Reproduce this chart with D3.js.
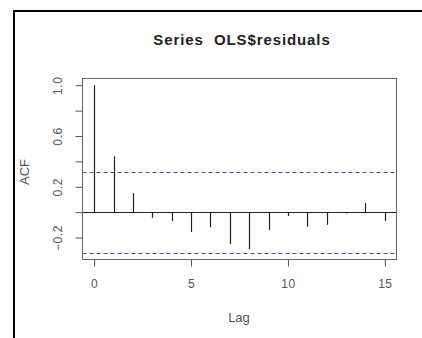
<!DOCTYPE html>
<html>
<head>
<meta charset="utf-8">
<script src="https://cdn.jsdelivr.net/npm/d3@7"></script>
<style>
  body { margin: 0; background: #fff; }
  text { font-family: "Liberation Sans", Arial, sans-serif; }
</style>
</head>
<body>
<svg id="chart" width="422" height="338"></svg>
<script>
// acf of the OLS residuals
var lags = [0, 1, 2, 3, 4, 5, 6, 7, 8, 9, 10, 11, 12, 13, 14, 15];
var acfValues = [1.0, 0.44, 0.15, -0.045, -0.07, -0.156, -0.118, -0.25, -0.29, -0.14, -0.03, -0.115, -0.10, -0.01, 0.072, -0.07];
var ciLevel = 0.32;
var xTicks = [0, 5, 10, 15];
var yTicks = [-0.2, 0, 0.2, 0.4, 0.6, 0.8, 1.0];
var yLabelled = [-0.2, 0.2, 0.6, 1.0];

var svg = d3.select("#chart");
var box = { left: 82.5, right: 396.5, top: 78.5, bottom: 259.5 };

// R style 4% padding on both scales
var ymin = Math.min(d3.min(acfValues), -ciLevel), ymax = d3.max(acfValues);
var yPad = (ymax - ymin) * 0.04;
var xPad = (d3.max(lags) - d3.min(lags)) * 0.04;

var x = d3.scaleLinear()
  .domain([d3.min(lags) - xPad, d3.max(lags) + xPad])
  .range([box.left, box.right]);
var y = d3.scaleLinear()
  .domain([ymin - yPad, ymax + yPad])
  .range([box.bottom, box.top]);

// outer frame (top + left only)
svg.append("path")
  .attr("d", "M14,338V11H422")
  .attr("fill", "none")
  .attr("stroke", "#000")
  .attr("stroke-width", 2);

svg.append("text")
  .attr("x", 242)
  .attr("y", 45)
  .attr("text-anchor", "middle")
  .style("font-size", "15px")
  .style("font-weight", "bold")
  .style("letter-spacing", "0.9px")
  .style("white-space", "pre")
  .attr("fill", "#222")
  .text("Series  OLS$residuals");

// zero line
svg.append("line")
  .attr("x1", box.left).attr("x2", box.right)
  .attr("y1", Math.round(y(0)) + 0.5).attr("y2", Math.round(y(0)) + 0.5)
  .attr("stroke", "#222");

// confidence bands
[ciLevel, -ciLevel].forEach(function (c) {
  svg.append("line")
    .attr("x1", box.left).attr("x2", box.right)
    .attr("y1", Math.round(y(c)) + 0.5).attr("y2", Math.round(y(c)) + 0.5)
    .attr("stroke", "#4646d8")
    .attr("stroke-dasharray", "4,3");
});

// spikes
svg.selectAll(".spike")
  .data(lags)
  .enter().append("line")
  .attr("class", "spike")
  .attr("x1", function (d) { return Math.round(x(d)) + 0.5; })
  .attr("x2", function (d) { return Math.round(x(d)) + 0.5; })
  .attr("y1", y(0))
  .attr("y2", function (d, i) { return y(acfValues[i]); })
  .attr("stroke", "#222")
  .attr("stroke-width", 1.2);

// plot box
svg.append("rect")
  .attr("x", box.left).attr("y", box.top)
  .attr("width", box.right - box.left).attr("height", box.bottom - box.top)
  .attr("fill", "none")
  .attr("stroke", "#666");

// x axis
var xAxis = svg.append("g")
  .attr("transform", "translate(0," + box.bottom + ")")
  .call(d3.axisBottom(x).tickValues(xTicks).tickSize(7).tickPadding(13).tickFormat(d3.format("d")));
xAxis.select(".domain").attr("stroke", "#666").attr("d", "M" + (Math.round(x(0)) + 0.5) + ",0H" + (Math.round(x(15)) + 0.5));
xAxis.selectAll(".tick line").attr("stroke", "#555");
xAxis.selectAll(".tick text").style("font-size", "12px").attr("fill", "#555")
  .style("letter-spacing", "0.5px")
  .style("font-family", "Liberation Sans, Arial, sans-serif");

// y axis, labels only on every other tick like R
var yAxis = svg.append("g")
  .attr("transform", "translate(" + box.left + ",0)")
  .call(d3.axisLeft(y).tickValues(yTicks).tickSize(7).tickPadding(0)
    .tickFormat(function (d) { return yLabelled.indexOf(d) >= 0 ? d3.format(".1f")(d) : ""; }));
yAxis.select(".domain").attr("stroke", "#666").attr("d", "M0," + y(-0.2) + "V" + y(1.0));
yAxis.selectAll(".tick line").attr("stroke", "#555");
yAxis.selectAll(".tick text")
  .style("font-size", "12px").attr("fill", "#555")
  .style("letter-spacing", "0.6px")
  .style("font-family", "Liberation Sans, Arial, sans-serif")
  .attr("x", null).attr("dy", null)
  .attr("text-anchor", "middle")
  .attr("transform", "translate(-25,0) rotate(-90)")
  .attr("dy", "0.35em");

svg.append("text")
  .attr("x", 239).attr("y", 322)
  .attr("text-anchor", "middle")
  .style("font-size", "13px")
  .attr("fill", "#555")
  .text("Lag");

svg.append("text")
  .attr("transform", "translate(29,172) rotate(-90)")
  .attr("text-anchor", "middle")
  .style("font-size", "13px")
  .attr("fill", "#555")
  .text("ACF");
</script>
</body>
</html>
